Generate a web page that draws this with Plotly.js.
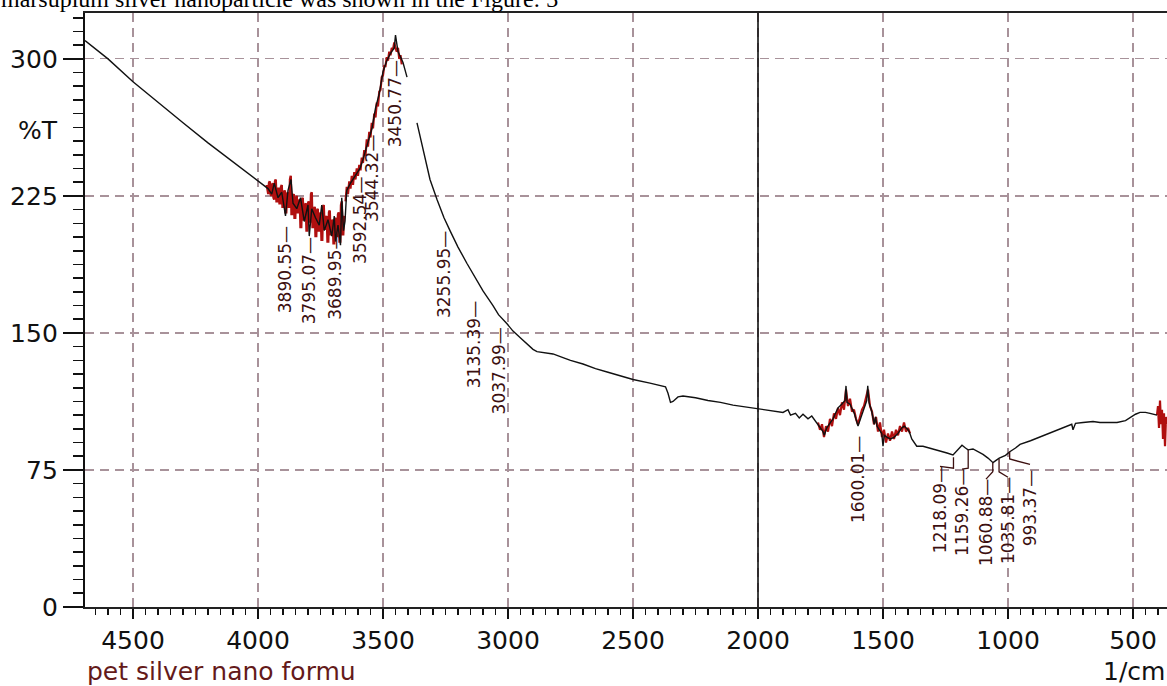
<!DOCTYPE html>
<html>
<head>
<meta charset="utf-8">
<script src="https://cdn.plot.ly/plotly-3.0.1.min.js"></script>
<style>html,body{margin:0;padding:0;background:#fff;}#chart{width:1167px;height:686px;}</style>
</head>
<body>
<div id="chart"></div>
<script>
// ---- main spectrum (black) ----
const wavenumber = [4692,4600,4500,4400,4300,4200,4100,4000,3960,3945,3935,3920,3905,3890,3880,3868,3860,3845,3830,3815,3800,3795,3785,3770,3755,3745,3735,3720,3705,3695,3690,3680,3670,3665,3658,3652,
 3645,3630,3610,3592,3580,3564,3544,3530,3515,3500,3485,3470,3455,3450,3445,3440,3430,3420,3410,3404,null,
 3364,3340,3312,3284,3256,3232,3200,3164,3135,3100,3060,3038,3004,2980,2952,2924,2900,2884,2850,2820,2780,2750,2700,2650,2600,2564,2500,2432,2400,2370,2360,2350,2340,2330,2320,2300,2250,2200,2150,2100,2050,2000,1950,1900,1880,1870,1850,1835,1820,1800,1785,
 1770,1755,1740,1735,1725,1710,1700,1690,1680,1665,1652,1648,1644,1632,1615,1600,1590,1575,1565,1561,1556,1545,1535,1530,1524,1515,1505,1500,1495,1485,1470,1455,1440,1425,1415,1400,1395,1385,1375,1365,1340,1312,1280,1244,1220,1200,1184,1170,1160,1140,1120,1100,1080,1060,1045,1035,1010,993,970,952,910,872,830,792,764,745,740,730,700,660,632,600,564,530,512,490,472,450,432,410,404];
const transmittance = [310,300,287.5,276,265,254,243.5,233.5,229,226,232,224,227,214,228,234,221,218,224,211,220,203,218,213,209,220,206,212,203,214,200,209,198,224,206,211,
 228,232,236,240,245,253,262,273,281,293,299,303,306,313,308,304,301,298,293,290,null,
 265,250,234,223,213,206,197,188,181,173,165,160,155,151,147.5,144,141,139.8,139,138.5,136.5,135,133,130.5,128.5,127,124.5,122.5,121.5,120.5,117,112,112.5,113.5,115,115.5,114.5,113,112,110.5,109.5,108.5,107.5,106.5,108,105,106,103.5,105.5,103,104.5,
 101.5,99,96,94,98,101,103,106,109,111,113,121,112,111,106,99,103,110,113,121,112,107,100,104,99,97,95,88,94,93,92,93,95,98,99,97,96,92,90,88,88,87,86,84.3,83.2,86,88.5,87,86,86.5,85,83.5,81.5,79,80.5,81.5,83,85,87,89,91,93,95.5,97.5,99,100,97,100.5,101,101.5,101,101,101,102,103.5,105.5,106.5,106.5,106,105.5,105];

// ---- noisy segments (red) ----
const noiseA_wn = [3965,3962,3959,3956,3953,3950,3947,3944,3941,3938,3935,3932,3929,3926,3923,3920,3917,3914,3911,3908,3905,3902,3899,3896,3893,3890,3887,3884,3881,3878,3875,3872,3869,3866,3863,3860,3857,3854,3851,3848,3845,3842,3839,3836,3833,3830,3827,3824,3821,3818,3815,3812,3809,3806,3803,3800,3797,3794,3791,3788,3785,3782,3779,3776,3773,3770,3767,3764,3761,3758,3755,3752,3749,3746,3743,3740,3737,3734,3731,3728,3725,3722,3719,3716,3713,3710,3707,3704,3701,3698,3695,3692,3689,3686,3683,3680,3677,3674,3671,3668,3665,3662,3659,3656,3653];
const noiseA_T  = [231,227,226,232,233,226,225,231,232,224,223,233,234,222,222,229,229,221,221,230,231,219,219,227,228,216,216,226,227,219,219,234,236,215,215,225,226,213,213,224,225,216,216,222,223,208,208,223,224,212,212,220,221,206,206,221,222,211,211,226,227,208,208,218,219,203,203,217,218,206,206,215,216,201,201,219,220,207,207,213,214,200,200,216,217,204,204,211,212,199,199,212,213,203,203,215,216,200,200,220,222,204,204,213,214];
const noiseB_wn = [3650,3645,3640,3635,3630,3625,3620,3615,3610,3605,3600,3595,3590,3585,3580,3575,3570,3565,3560,3555,3550,3545,3540,3535,3530,3525,3520,3515,3510,3505,3500,3495,3490,3485,3480,3475,3470,3465,3460,3455,3450,3445,3440,3435,3430,3425];
const noiseB_T  = [222,230,226,233,229,236,231,238,234,240,236,242,239,246,243,250,247,256,252,260,257,265,262,270,268,276,274,282,283,290,291,296,296,301,299,304,302,306,305,309,306,304,306,300,302,297];
const noiseC_wn = [1760,1752,1744,1736,1728,1720,1712,1704,1696,1688,1680,1672,1664,1656,1648,1640,1632,1624,1616,1608,1600,1592,1584,1576,1568,1560,1552,1544,1536,1528,1520,1512,1504,1496,1488,1480,1472,1464,1456,1448,1440,1432,1424,1416,1408,1400,1392];
const noiseC_T  = [101,97,100,93,99,96,103,99,106,103,109,105,112,108,119,110,114,107,108,103,100,104,108,110,114,119,110,107,100,104,96,101,93,97,90,95,91,96,92,97,94,99,96,101,96,98,95];
const noiseD_wn = [404,400,396,392,388,384,380,376,372,368,364];
const noiseD_T  = [105,110,98,113,100,108,92,106,88,104,100];

// ---- peak labels ----
const peakWn    = [3890.55,3795.07,3689.95,3592.54,3544.32,3450.77,3255.95,3135.39,3037.99,1600.01,1218.09,1159.26,1060.88,1035.81,993.37];
const peakText  = ["3890.55","3795.07","3689.95","3592.54","3544.32","3450.77","3255.95","3135.39","3037.99","1600.01","1218.09","1159.26","1060.88","1035.81","993.37"];
const labelWn   = [3890.55,3795.07,3689.95,3592.54,3544.32,3450.77,3255.95,3135.39,3037.99,1600.01,1272,1184,1088,1000,912];
const labelT    = [184.5,178.4,181,211.8,234.8,275.3,181.7,143.4,129.2,69.5,53,51.5,46,47,54];
const curveT    = [null,null,null,null,null,null,null,null,null,null,82,86,79,81,85];
const kinkT     = [null,null,null,null,null,null,null,null,null,null,76,76,74,74,81];

// ---- axis ticks ----
const xTicks = [4500,4000,3500,3000,2500,2000,1500,1000,500];
const yTicks = [0,75,150,225,300];

const RED = '#b00f0f';
const LABEL_COLOR = '#3c1010';

const traces = [
  {x: noiseA_wn, y: noiseA_T, mode:'lines', line:{color:RED, width:2.4}, hoverinfo:'skip'},
  {x: noiseB_wn, y: noiseB_T, mode:'lines', line:{color:RED, width:2.2}, hoverinfo:'skip'},
  {x: noiseC_wn, y: noiseC_T, mode:'lines', line:{color:RED, width:2.2}, hoverinfo:'skip'},
  {x: noiseD_wn, y: noiseD_T, mode:'lines', line:{color:RED, width:2.2}, hoverinfo:'skip'},
  {x: wavenumber, y: transmittance, mode:'lines', connectgaps:false, line:{color:'#111', width:1.4}, hoverinfo:'skip'}
];

const annotations = [];
const shapes = [];
for (let i = 0; i < peakWn.length; i++) {
  annotations.push({
    x: labelWn[i], y: labelT[i], xref:'x', yref:'y', showarrow:false,
    text: peakText[i] + '\u2014', textangle:-90,
    font:{family:'DejaVu Sans', size:17, color:LABEL_COLOR},
    xanchor:'center', yanchor:'middle'
  });
  if (curveT[i] !== null) {
    shapes.push({type:'path', xref:'x', yref:'y',
      path: `M ${peakWn[i]} ${curveT[i]} L ${peakWn[i]} ${kinkT[i]} L ${labelWn[i]} ${labelT[i] + 24}`,
      line:{color:LABEL_COLOR, width:1.3}});
  }
}
// solid divider at 2000
shapes.push({type:'line', xref:'x', yref:'paper', x0:2000, x1:2000, y0:0, y1:1, line:{color:'#111', width:1.6}});

annotations.push(
  {xref:'paper', yref:'paper', x:-0.0434, y:0.803, text:'%T', showarrow:false,
   font:{family:'DejaVu Sans', size:25, color:'#111'}, xanchor:'center', yanchor:'middle'},
  {xref:'paper', yref:'paper', x:0, y:-0.108, text:'pet silver nano formu', showarrow:false,
   font:{family:'DejaVu Sans', size:25, color:'#641a1a'}, xanchor:'left', yanchor:'middle'},
  {xref:'paper', yref:'paper', x:1, y:-0.108, text:'1/cm', showarrow:false,
   font:{family:'DejaVu Sans', size:25, color:'#111'}, xanchor:'right', yanchor:'middle'},
  {xref:'paper', yref:'paper', x:-0.0795, y:1.023, text:'marsupium silver nanoparticle was shown in the Figure: 3', showarrow:false,
   font:{family:'Liberation Serif', size:24, color:'#000'}, xanchor:'left', yanchor:'middle'}
);

const layout = {
  width:1167, height:686,
  margin:{l:85, r:0, t:13, b:79},
  paper_bgcolor:'#fff', plot_bgcolor:'#fff',
  showlegend:false,
  xaxis:{
    range:[4692, 364], tickmode:'array', tickvals:xTicks, ticktext:xTicks.map(String),
    ticks:'outside', ticklen:10, tickwidth:1.5, tickcolor:'#111',
    minor:{dtick:50, tick0:0, ticks:'outside', ticklen:6, tickwidth:1.3, tickcolor:'#111', showgrid:false},
    showline:true, linecolor:'#222', linewidth:1.6, mirror:true,
    showgrid:true, gridcolor:'#a8929a', gridwidth:1.2, griddash:'9px,6px',
    zeroline:false, tickfont:{family:'DejaVu Sans', size:25, color:'#111'}
  },
  yaxis:{
    range:[0, 325.1], tickmode:'array', tickvals:yTicks, ticktext:yTicks.map(String),
    ticks:'outside', ticklen:20, tickwidth:1.6, tickcolor:'#111',
    minor:{dtick:7.5, tick0:0, ticks:'outside', ticklen:10, tickwidth:1.6, tickcolor:'#111', showgrid:false},
    showline:true, linecolor:'#111', linewidth:2.2,
    showgrid:true, gridcolor:'#a8929a', gridwidth:1.2, griddash:'9px,6px',
    zeroline:false, tickfont:{family:'DejaVu Sans', size:25, color:'#111'}
  },
  annotations: annotations,
  shapes: shapes
};

Plotly.newPlot('chart', traces, layout, {displayModeBar:false, staticPlot:true});
</script>
</body>
</html>
